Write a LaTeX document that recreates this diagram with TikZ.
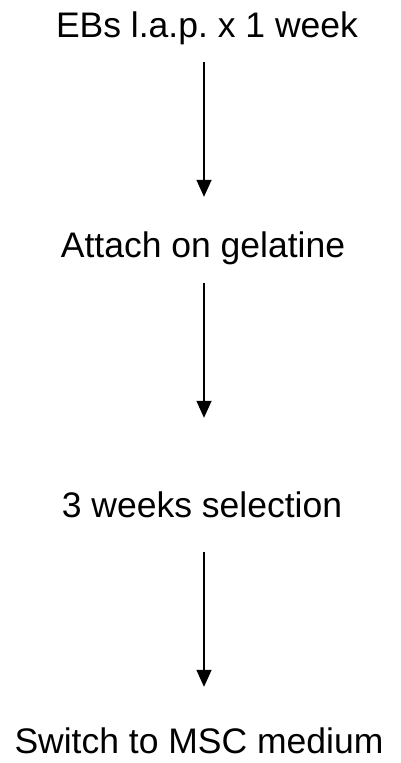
\documentclass[tikz,border=0pt]{standalone}
\usepackage{fontspec}
\setmainfont{Liberation Sans}
\usetikzlibrary{arrows.meta}
\frenchspacing
\begin{document}
\begin{tikzpicture}[x=1pt,y=1pt,
  stage/.style={anchor=base,inner sep=0pt,text height=26pt,text depth=8pt,
    font=\fontsize{35.5}{42}\selectfont},
  flow/.style={line width=1.5pt,-{Triangle[length=17pt,width=15pt]}}]
  \useasboundingbox (0,0) rectangle (400,-763);
  \node[stage] (s1) at (207,-37) {EBs l.a.p. x 1 week};
  \node[stage] (s2) at (203,-257) {Attach on gelatine};
  \node[stage] (s3) at (202,-517) {3 weeks selection};
  \node[stage] (s4) at (199,-753) {Switch to MSC medium};
  \draw[flow,shorten <=17pt,shorten >=34pt] (s1.south -| 204,0) -- (s2.north -| 204,0);
  \draw[flow,shorten <=18pt,shorten >=73pt] (s2.south -| 204,0) -- (s3.north -| 204,0);
  \draw[flow,shorten <=27pt,shorten >=40pt] (s3.south -| 204,0) -- (s4.north -| 204,0);
\end{tikzpicture}
\end{document}
